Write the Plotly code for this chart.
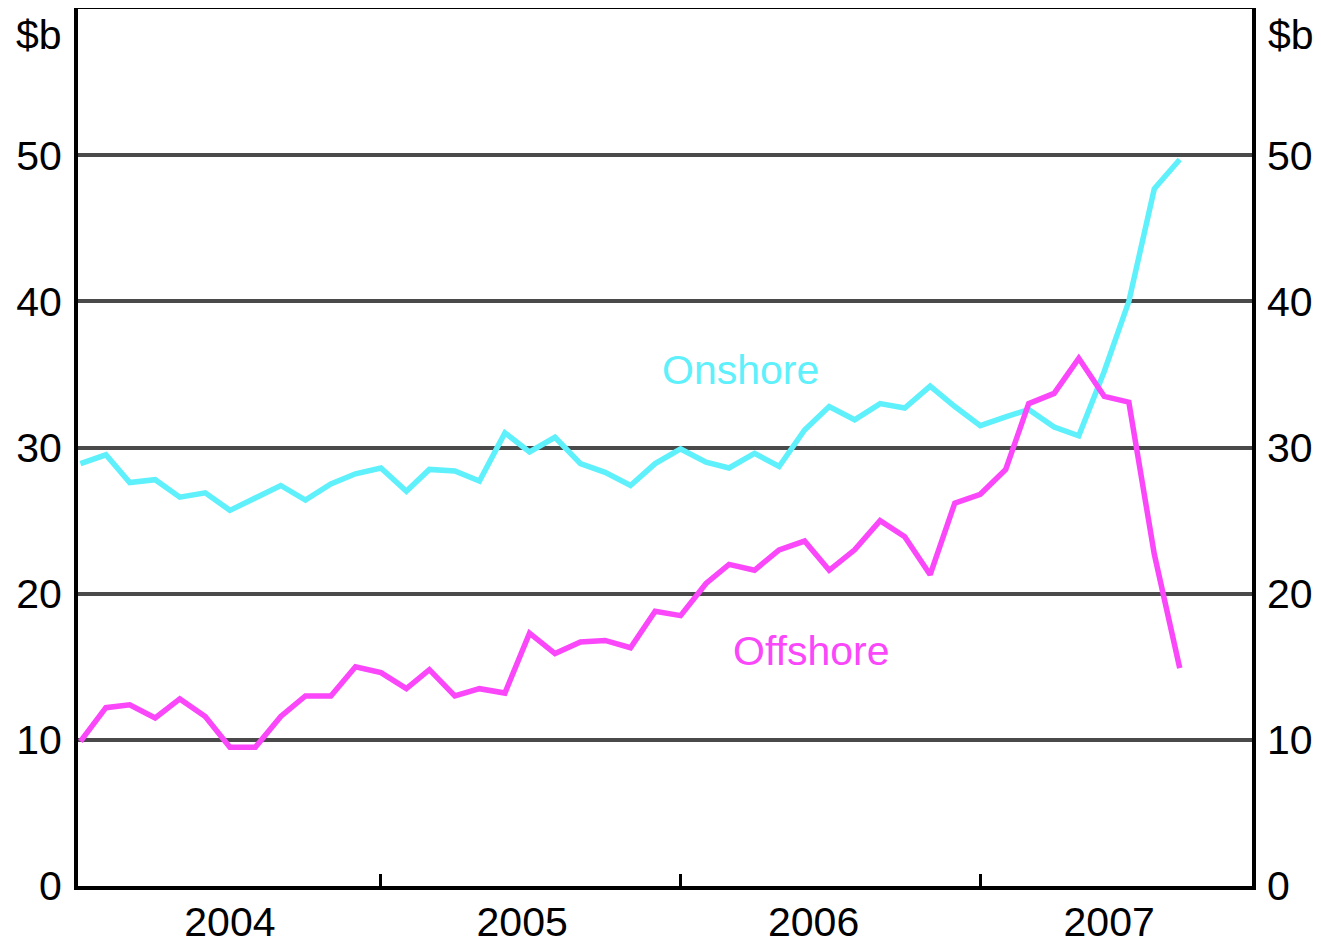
import pandas as pd
import plotly.graph_objects as go

months = pd.date_range("2004-01-01", periods=45, freq="MS")

onshore = [28.9, 29.5, 27.6, 27.8, 26.6, 26.9, 25.7, 26.6, 27.4, 26.4, 27.5, 28.2,
           28.6, 27.0, 28.5, 28.4, 27.7, 31.0, 29.7, 30.7, 28.9, 28.3, 27.4, 28.9,
           29.9, 29.0, 28.6, 29.6, 28.7, 31.2, 32.8, 31.9, 33.0, 32.7, 34.2, 32.8,
           31.5, 32.1, 32.6, 31.4, 30.8, 35.2, 40.0, 47.7, 49.7]
offshore = [9.9, 12.2, 12.4, 11.5, 12.8, 11.6, 9.5, 9.5, 11.6, 13.0, 13.0, 15.0,
            14.6, 13.5, 14.8, 13.0, 13.5, 13.2, 17.3, 15.9, 16.7, 16.8, 16.3, 18.8,
            18.5, 20.7, 22.0, 21.6, 23.0, 23.6, 21.6, 23.0, 25.0, 23.9, 21.3, 26.2,
            26.8, 28.5, 33.0, 33.7, 36.1, 33.5, 33.1, 22.7, 14.9]

year_bounds = ["2005-01-01", "2006-01-01", "2007-01-01"]
year_label_pos = ["2004-07-01", "2005-06-22", "2006-06-12", "2007-06-07"]
year_labels = ["2004", "2005", "2006", "2007"]
y_ticks = [0, 10, 20, 30, 40, 50]

x_range = ["2003-12-29", "2007-11-28"]
y_range = [0, 60]

CYAN = "#5EF0FB"
MAGENTA = "#F947F9"
FONT = "Liberation Sans, Arial, sans-serif"

fig = go.Figure()
fig.add_trace(go.Scatter(x=months, y=onshore, mode="lines", name="Onshore",
                         line=dict(color=CYAN, width=5.5), showlegend=False))
fig.add_trace(go.Scatter(x=months, y=offshore, mode="lines", name="Offshore",
                         line=dict(color=MAGENTA, width=5.5), showlegend=False))
# invisible helper trace for the overlay axes
fig.add_trace(go.Scatter(x=months[:1], y=[None], xaxis="x2", yaxis="y2",
                         showlegend=False, hoverinfo="skip"))

fig.update_layout(
    width=1313, height=936,
    margin=dict(l=70, r=69, t=1, b=58, autoexpand=False),
    plot_bgcolor="white", paper_bgcolor="white",
    font=dict(family=FONT, size=41, color="black"),
    xaxis=dict(
        type="date", range=x_range, automargin=False,
        tickvals=year_bounds, ticktext=["", "", ""],
        ticks="inside", ticklen=12, tickwidth=3, tickcolor="black",
        showgrid=False, zeroline=False,
        showline=True, linecolor="black", linewidth=4, mirror=True,
    ),
    xaxis2=dict(
        type="date", range=x_range, overlaying="x", side="bottom", automargin=False,
        tickvals=year_label_pos, ticktext=year_labels,
        ticks="", showgrid=False, zeroline=False, showline=False,
        ticklabelstandoff=8,
    ),
    yaxis=dict(
        range=y_range, tickvals=y_ticks, ticks="", automargin=False,
        showgrid=True, gridcolor="#4A4A4A", gridwidth=3.5,
        zeroline=False, showline=True, linecolor="black", linewidth=4, mirror=True,
        ticklabelstandoff=4,
    ),
    yaxis2=dict(
        range=y_range, tickvals=y_ticks, ticks="", overlaying="y", side="right",
        automargin=False, showgrid=False, zeroline=False, showline=False,
        ticklabelstandoff=14,
    ),
    annotations=[
        dict(text="$b", xref="paper", yref="paper", x=0, y=0.97, xanchor="right",
             yanchor="middle", xshift=-14, showarrow=False,
             font=dict(family=FONT, size=41, color="black")),
        dict(text="$b", xref="paper", yref="paper", x=1, y=0.97, xanchor="left",
             yanchor="middle", xshift=14, showarrow=False,
             font=dict(family=FONT, size=41, color="black")),
        dict(text="Onshore", x="2006-03-15", y=35.3, showarrow=False,
             font=dict(family=FONT, size=41, color=CYAN)),
        dict(text="Offshore", x="2006-06-10", y=16.1, showarrow=False,
             font=dict(family=FONT, size=41, color=MAGENTA)),
    ],
)

fig.write_html("out.html")
